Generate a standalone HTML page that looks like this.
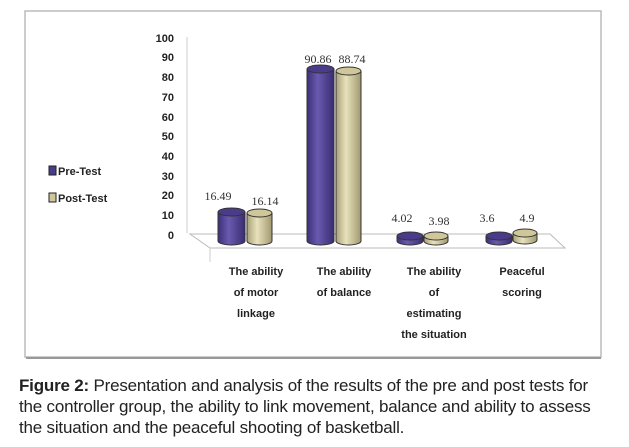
<!DOCTYPE html><html><head><style>body{margin:0;background:#fff;width:629px;height:447px;overflow:hidden}
.cap{position:absolute;left:19px;top:375px;white-space:nowrap;font:17px/21px "Liberation Sans",sans-serif;color:#222;letter-spacing:-0.2px}
</style></head><body>
<svg width="629" height="447" style="position:absolute;left:0;top:0" font-family="Liberation Sans,sans-serif">
<defs>
<linearGradient id="p" x1="0" x2="1"><stop offset="0" stop-color="#3d2f78"/><stop offset=".4" stop-color="#6a5ab0"/><stop offset="1" stop-color="#3a2c70"/></linearGradient>
<linearGradient id="t" x1="0" x2="1"><stop offset="0" stop-color="#a8a078"/><stop offset=".4" stop-color="#e8e2bc"/><stop offset="1" stop-color="#a09870"/></linearGradient>
</defs>
<rect x="25" y="11" width="576" height="346" fill="#fff" stroke="#bbb" stroke-width="1.5"/>
<line x1="26" y1="358" x2="601" y2="358" stroke="#999" stroke-width="2"/>
<g font-size="11" font-weight="bold" fill="#222" text-anchor="end">
<text x="174" y="42">100</text><text x="174" y="61">90</text><text x="174" y="81">80</text><text x="174" y="101">70</text><text x="174" y="121">60</text><text x="174" y="140">50</text><text x="174" y="160">40</text><text x="174" y="180">30</text><text x="174" y="199">20</text><text x="174" y="219">10</text><text x="174" y="239">0</text>
</g>
<line x1="187" y1="37" x2="187" y2="233" stroke="#ccc"/>
<polygon points="190,234 550,234 565,248 210,248" fill="none" stroke="#bbb"/>
<line x1="210" y1="248" x2="210" y2="262" stroke="#ccc"/>
<g stroke="#333" stroke-width="1">
<path d="M218,212 V241 A13.5,4 0 0 0 245,241 V212" fill="url(#p)"/><ellipse cx="231.5" cy="212" rx="13.5" ry="4" fill="#4a3c8a"/>
<path d="M247,213 V241 A12.5,4 0 0 0 272,241 V213" fill="url(#t)"/><ellipse cx="259.5" cy="213" rx="12.5" ry="4" fill="#cfc79a"/>
<path d="M307,69 V241 A13.5,4 0 0 0 334,241 V69" fill="url(#p)"/><ellipse cx="320.5" cy="69" rx="13.5" ry="4" fill="#4a3c8a"/>
<path d="M336,71 V241 A12.5,4 0 0 0 361,241 V71" fill="url(#t)"/><ellipse cx="348.5" cy="71" rx="12.5" ry="4" fill="#cfc79a"/>
<path d="M397,236 V241 A13,4 0 0 0 423,241 V236" fill="url(#p)"/><ellipse cx="410" cy="236" rx="13" ry="4" fill="#4a3c8a"/>
<path d="M424,236 V241 A12,4 0 0 0 448,241 V236" fill="url(#t)"/><ellipse cx="436" cy="236" rx="12" ry="4" fill="#cfc79a"/>
<path d="M486,236 V241 A13,4 0 0 0 512,241 V236" fill="url(#p)"/><ellipse cx="499" cy="236" rx="13" ry="4" fill="#4a3c8a"/>
<path d="M513,233 V240 A12,4 0 0 0 537,240 V233" fill="url(#t)"/><ellipse cx="525" cy="233" rx="12" ry="4" fill="#cfc79a"/>
</g>
<g font-family="Liberation Serif,serif" font-size="12" fill="#333" text-anchor="middle">
<text x="218" y="200">16.49</text><text x="265" y="205">16.14</text>
<text x="318" y="63">90.86</text><text x="352" y="63">88.74</text>
<text x="402" y="222">4.02</text><text x="439" y="225">3.98</text>
<text x="487" y="222">3.6</text><text x="527" y="222">4.9</text>
</g>
<g font-size="11" font-weight="bold" fill="#222" text-anchor="middle">
<text x="256" y="275">The ability</text><text x="256" y="296">of motor</text><text x="256" y="317">linkage</text>
<text x="344" y="275">The ability</text><text x="344" y="296">of balance</text>
<text x="434" y="275">The ability</text><text x="434" y="296">of</text><text x="434" y="317">estimating</text><text x="434" y="338">the situation</text>
<text x="522" y="275">Peaceful</text><text x="522" y="296">scoring</text>
</g>
<rect x="49" y="166" width="7" height="9" fill="#4a3c8a" stroke="#222"/>
<rect x="49" y="193" width="7" height="9" fill="#cfc79a" stroke="#222"/>
<g font-size="11" font-weight="bold" fill="#222"><text x="58" y="175">Pre-Test</text><text x="58" y="202">Post-Test</text></g>
</svg>
<div class="cap"><b>Figure 2:</b> Presentation and analysis of the results of the pre and post tests for<br>the controller group, the ability to link movement, balance and ability to assess<br>the situation and the peaceful shooting of basketball.</div>
</body></html>
